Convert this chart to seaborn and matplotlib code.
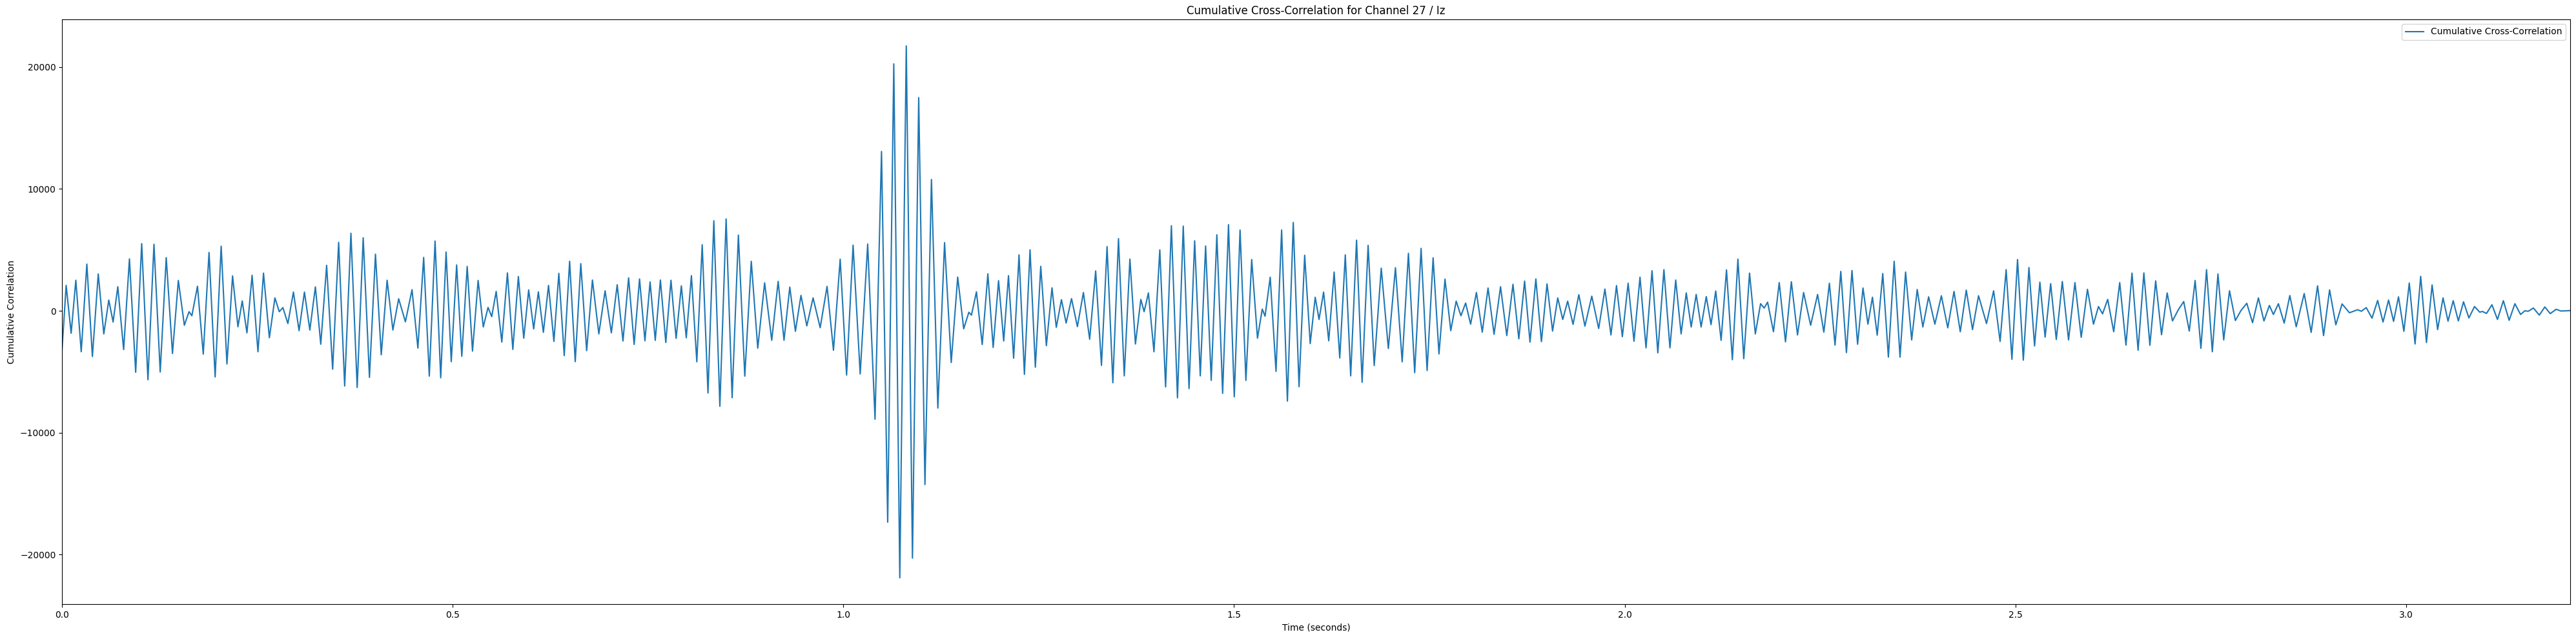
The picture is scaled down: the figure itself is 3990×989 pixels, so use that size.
import numpy as np
import pandas as pd
import seaborn as sns
import matplotlib.pyplot as plt

# extrema of the cumulative cross-correlation (time in s)
time_s = [
    # 0.00 - 0.27
    0.0000, 0.0052, 0.0116, 0.0176, 0.0245, 0.0317, 0.0388, 0.0463, 0.0534, 0.0598,
    0.0653, 0.0713, 0.0788, 0.0862, 0.0942, 0.1019, 0.1099, 0.1176, 0.1256, 0.1333,
    0.1413, 0.1488, 0.1565, 0.1625, 0.1661, 0.1733, 0.1807, 0.1881, 0.1959, 0.2036,
    0.2110, 0.2182, 0.2251, 0.2306, 0.2366, 0.2432, 0.2507, 0.2578, 0.2653,
    # 0.27 - 0.53
    0.2724, 0.2780, 0.2826, 0.2890, 0.2961, 0.3033, 0.3102, 0.3171, 0.3242, 0.3311,
    0.3386, 0.3463, 0.3540, 0.3617, 0.3697, 0.3777, 0.3854, 0.3934, 0.4011, 0.4085,
    0.4160, 0.4234, 0.4308, 0.4394, 0.4479, 0.4554, 0.4628, 0.4700, 0.4774, 0.4846,
    0.4915, 0.4981, 0.5050, 0.5116, 0.5185, 0.5253, 0.5325,
    # 0.53 - 0.80
    0.5391, 0.5452, 0.5499, 0.5556, 0.5628, 0.5700, 0.5769, 0.5840, 0.5909, 0.5972,
    0.6036, 0.6096, 0.6160, 0.6226, 0.6295, 0.6358, 0.6427, 0.6496, 0.6568, 0.6639,
    0.6714, 0.6788, 0.6870, 0.6950, 0.7030, 0.7105, 0.7179, 0.7251, 0.7322, 0.7391,
    0.7460, 0.7526, 0.7592, 0.7658, 0.7727, 0.7793, 0.7859, 0.7926, 0.7989,
    # 0.80 - 1.07
    0.8055, 0.8124, 0.8193, 0.8267, 0.8342, 0.8419, 0.8499, 0.8576, 0.8656, 0.8738,
    0.8821, 0.8904, 0.8992, 0.9083, 0.9165, 0.9240, 0.9314, 0.9386, 0.9457, 0.9532,
    0.9612, 0.9703, 0.9791, 0.9873, 0.9959, 1.0041, 1.0124, 1.0215, 1.0311, 1.0405,
    1.0488, 1.0567, 1.0645, 1.0722,
    # 1.07 - 1.34
    1.0805, 1.0884, 1.0964, 1.1044, 1.1127, 1.1209, 1.1295, 1.1380, 1.1463, 1.1540,
    1.1606, 1.1639, 1.1703, 1.1777, 1.1849, 1.1917, 1.1986, 1.2052, 1.2113, 1.2179,
    1.2248, 1.2317, 1.2389, 1.2457, 1.2526, 1.2598, 1.2670, 1.2725, 1.2791, 1.2851,
    1.2920, 1.2995, 1.3072, 1.3152, 1.3229, 1.3303, 1.3375,
    # 1.34 - 1.61
    1.3449, 1.3521, 1.3595, 1.3667, 1.3738, 1.3807, 1.3849, 1.3904, 1.3975, 1.4050,
    1.4124, 1.4198, 1.4276, 1.4350, 1.4424, 1.4496, 1.4568, 1.4636, 1.4708, 1.4780,
    1.4854, 1.4929, 1.5003, 1.5077, 1.5152, 1.5226, 1.5300, 1.5361, 1.5397, 1.5463,
    1.5537, 1.5609, 1.5683, 1.5758, 1.5832, 1.5904, 1.5975, 1.6039, 1.6088,
    # 1.61 - 1.87
    1.6146, 1.6212, 1.6281, 1.6353, 1.6424, 1.6493, 1.6568, 1.6639, 1.6716, 1.6794,
    1.6884, 1.6975, 1.7066, 1.7152, 1.7232, 1.7312, 1.7394, 1.7471, 1.7548, 1.7623,
    1.7700, 1.7774, 1.7843, 1.7904, 1.7964, 1.8028, 1.8102, 1.8177, 1.8251, 1.8328,
    1.8411, 1.8491, 1.8570, 1.8645, 1.8719,
    # 1.87 - 2.14
    1.8788, 1.8863, 1.8934, 1.9006, 1.9077, 1.9143, 1.9207, 1.9270, 1.9339, 1.9413,
    1.9491, 1.9579, 1.9667, 1.9747, 1.9824, 1.9895, 1.9970, 2.0044, 2.0119, 2.0196,
    2.0273, 2.0350, 2.0424, 2.0502, 2.0579, 2.0653, 2.0722, 2.0788, 2.0851, 2.0915,
    2.0978, 2.1044, 2.1105, 2.1165, 2.1234, 2.1303, 2.1378, 2.1449,
    # 2.14 - 2.41
    2.1524, 2.1598, 2.1672, 2.1739, 2.1785, 2.1829, 2.1904, 2.1978, 2.2058, 2.2133,
    2.2212, 2.2290, 2.2380, 2.2469, 2.2549, 2.2620, 2.2692, 2.2766, 2.2838, 2.2909,
    2.2981, 2.3050, 2.3113, 2.3171, 2.3232, 2.3303, 2.3375, 2.3449, 2.3524, 2.3595,
    2.3673, 2.3744, 2.3816, 2.3890, 2.3970, 2.4053, 2.4135,
    # 2.41 - 2.68
    2.4215, 2.4295, 2.4372, 2.4452, 2.4529, 2.4631, 2.4722, 2.4805, 2.4882, 2.4956,
    2.5028, 2.5102, 2.5174, 2.5246, 2.5314, 2.5381, 2.5452, 2.5524, 2.5601, 2.5681,
    2.5763, 2.5843, 2.5923, 2.6000, 2.6064, 2.6116, 2.6182, 2.6259, 2.6336, 2.6416,
    2.6493, 2.6571, 2.6645, 2.6722, 2.6796,
    # 2.68 - 2.95
    2.6871, 2.6943, 2.7011, 2.7086, 2.7155, 2.7226, 2.7301, 2.7375, 2.7447, 2.7521,
    2.7593, 2.7667, 2.7741, 2.7816, 2.7887, 2.7962, 2.8036, 2.8111, 2.8182, 2.8251,
    2.8303, 2.8367, 2.8441, 2.8513, 2.8595, 2.8697, 2.8786, 2.8868, 2.8945, 2.9022,
    2.9102, 2.9182, 2.9276, 2.9380, 2.9430, 2.9491,
    # 2.95 - end
    2.9565, 2.9637, 2.9706, 2.9777, 2.9841, 2.9904, 2.9973, 3.0042, 3.0116, 3.0188,
    3.0262, 3.0334, 3.0405, 3.0474, 3.0538, 3.0604, 3.0670, 3.0736, 3.0805, 3.0877,
    3.0943, 3.0978, 3.1031, 3.1100, 3.1171, 3.1246, 3.1320, 3.1394, 3.1466, 3.1521,
    3.1565, 3.1631, 3.1706, 3.1777, 3.1846, 3.1921, 3.1984, 3.2100,
]

corr = [
    # 0.00 - 0.27
    -3130, 2085, -1838, 2509, -3357, 3834, -3746, 3022, -1891, 884,
    -919, 1979, -3181, 4259, -5036, 5513, -5654, 5460, -5018, 4364,
    -3499, 2491, -1184, -71, -406, 2014, -3552, 4789, -5425, 5301,
    -4364, 2863, -1308, 813, -1802, 2916, -3357, 3092, -2209,
    # 0.27 - 0.53
    1060, -71, 265, -1043, 1537, -1626, 1537, -1573, 1961, -2739,
    3728, -4789, 5619, -6167, 6361, -6291, 5990, -5460, 4647, -3605,
    2509, -1573, 990, -901, 1732, -3057, 4382, -5354, 5725, -5495,
    4824, -4170, 3764, -3728, 3640, -3304, 2491,
    # 0.53 - 0.80
    -1325, 283, -477, 1590, -2562, 3110, -3163, 2810, -2244, 1714,
    -1484, 1555, -1767, 2085, -2509, 3075, -3675, 4064, -4170, 3870,
    -3269, 2527, -1891, 1643, -1802, 2138, -2474, 2704, -2757, 2615,
    -2456, 2368, -2421, 2527, -2597, 2509, -2262, 2050, -2209,
    # 0.80 - 1.07
    2885, -4180, 5417, -6742, 7390, -7831, 7537, -7124, 6212, -5358,
    4063, -3062, 2296, -2414, 2414, -2414, 1943, -1678, 1266, -1236,
    1060, -1384, 2002, -3238, 4239, -5270, 5388, -5181, 5476, -8891,
    13071, -17340, 20255, -21903,
    # 1.07 - 1.34
    21727, -20284, 17487, -14249, 10775, -7978, 5594, -4239, 2767, -1472,
    -118, -353, 1560, -2767, 3032, -3003, 2473, -2473, 2885, -3886,
    4593, -5211, 5005, -4622, 3651, -2856, 1884, -1354, 913, -1001,
    1001, -1295, 1501, -2326, 3268, -4475, 5270,
    # 1.34 - 1.61
    -5902, 5919, -5336, 4241, -2721, 937, -71, 1467, -3357, 5001,
    -6238, 6980, -7139, 6944, -6379, 5743, -5336, 5319, -5707, 6238,
    -6768, 7068, -7050, 6626, -5707, 4205, -2244, 141, -442, 2757,
    -4965, 6626, -7404, 7245, -6220, 4559, -2686, 1113, -707,
    # 1.61 - 1.87
    1537, -2456, 3181, -3870, 4594, -5336, 5796, -5866, 5372, -4488,
    3499, -3092, 3534, -4188, 4718, -5071, 5124, -4895, 4347, -3534,
    2597, -1626, 795, -406, 636, -1096, 1502, -1749, 1873, -1926,
    1979, -2032, 2173, -2297, 2438,
    # 1.87 - 2.14
    -2562, 2615, -2527, 2209, -1661, 1060, -707, 795, -1113, 1325,
    -1255, 1202, -1449, 1785, -1979, 2067, -2120, 2262, -2491, 2757,
    -3039, 3287, -3446, 3375, -3039, 2527, -1891, 1467, -1325, 1343,
    -1325, 1166, -1131, 1626, -2421, 3357, -4011, 4241,
    # 2.14 - 2.41
    -3923, 3092, -1891, 583, 230, 707, -1714, 2315, -2544, 2385,
    -1979, 1502, -1184, 1343, -1749, 2262, -2810, 3234, -3428, 3304,
    -2739, 1873, -1096, 1113, -1997, 3057, -3799, 4064, -3799, 3181,
    -2385, 1749, -1325, 1149, -1096, 1237, -1396,
    # 2.41 - 2.68
    1590, -1714, 1696, -1537, 1237, -1043, 1643, -2509, 3375, -3976,
    4205, -4046, 3552, -2880, 2350, -2156, 2226, -2350, 2403, -2385,
    2315, -2173, 1767, -1096, 353, -247, 937, -1714, 2315, -2810,
    3092, -3234, 3110, -2827, 2456,
    # 2.68 - 2.95
    -1961, 1467, -830, 88, 760, -1661, 2491, -3075, 3375, -3357,
    3022, -2385, 1643, -795, 18, 618, -972, 1060, -830, 442,
    -300, 583, -1007, 1255, -1308, 1414, -1767, 2050, -2032, 1714,
    -1149, 565, -159, 88, -35, 265,
    # 2.95 - end
    -601, 848, -919, 884, -866, 1149, -1679, 2279, -2721, 2827,
    -2597, 2120, -1537, 1060, -848, 830, -830, 742, -583, 353,
    -106, -53, -212, 495, -707, 830, -777, 583, -300, 0,
    -35, 230, -353, 318, -230, 124, -18, 18,
]

channel_name = "Channel 27 / Iz"

df = pd.DataFrame({'Time': time_s, 'Correlation': corr})

fig, ax = plt.subplots(figsize=(39.9, 9.89), dpi=100)
fig.subplots_adjust(left=0.0241, right=0.9977, bottom=0.0541, top=0.9697)

sns.lineplot(data=df, x='Time', y='Correlation', ax=ax, estimator=None,
             color='#1f77b4', linewidth=1.5, label='Cumulative Cross-Correlation')

ax.set_xlim(df['Time'].min(), df['Time'].max())
ax.set_title(f'Cumulative Cross-Correlation for {channel_name}')
ax.set_xlabel('Time (seconds)')
ax.set_ylabel('Cumulative Correlation')
ax.legend(loc='upper right')

fig.savefig('out.png', dpi=100)
